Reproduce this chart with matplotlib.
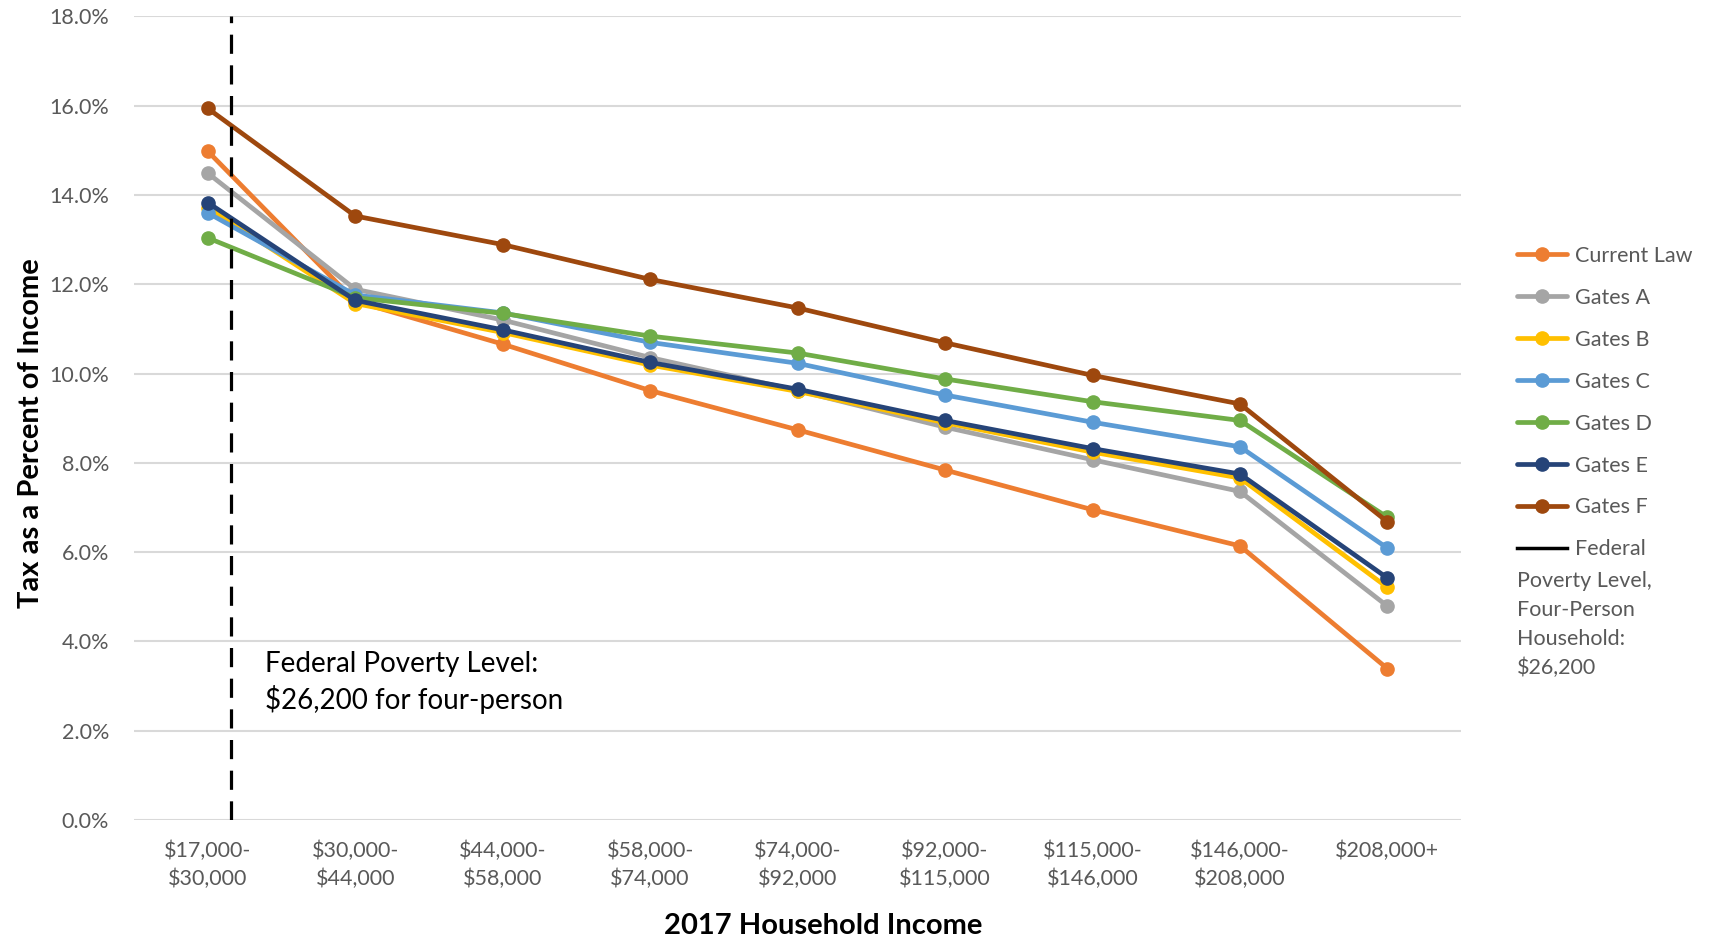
import matplotlib
matplotlib.use("Agg")
import matplotlib.pyplot as plt
from matplotlib.lines import Line2D
from matplotlib.ticker import FuncFormatter, MultipleLocator

plt.rcParams["font.family"] = ["Lato", "DejaVu Sans"]

# 소득 구간
income_bins = ["$17,000-\n$30,000", "$30,000-\n$44,000", "$44,000-\n$58,000",
               "$58,000-\n$74,000", "$74,000-\n$92,000", "$92,000-\n$115,000",
               "$115,000-\n$146,000", "$146,000-\n$208,000", "$208,000+"]

# 소득 대비 세금 비율 (%)
current_law = [14.98, 11.62, 10.66, 9.62, 8.74, 7.84, 6.95, 6.14, 3.39]
gates_a = [14.49, 11.89, 11.20, 10.36, 9.62, 8.80, 8.07, 7.36, 4.79]
gates_b = [13.72, 11.57, 10.92, 10.19, 9.60, 8.90, 8.24, 7.66, 5.21]
gates_c = [13.60, 11.76, 11.36, 10.70, 10.23, 9.52, 8.91, 8.36, 6.09]
gates_d = [13.04, 11.70, 11.35, 10.84, 10.46, 9.88, 9.37, 8.95, 6.78]
gates_e = [13.83, 11.64, 10.98, 10.25, 9.65, 8.95, 8.32, 7.75, 5.42]
gates_f = [15.94, 13.53, 12.89, 12.11, 11.47, 10.69, 9.96, 9.32, 6.68]

series_names = ["Current Law", "Gates A", "Gates B", "Gates C", "Gates D", "Gates E", "Gates F"]
series_values = [current_law, gates_a, gates_b, gates_c, gates_d, gates_e, gates_f]
colors = ["#ED7D31", "#A5A5A5", "#FFC000", "#5B9BD5", "#70AD47", "#264478", "#9E480E"]

poverty_x = 0.16  # 빈곤선 $26,200 위치 (첫 구간 안)

fig = plt.figure(figsize=(17.19, 9.41), dpi=100)
ax = fig.add_axes([0.078, 0.1286, 0.772, 0.8539])

x = list(range(len(income_bins)))
handles = []
for name, vals, c in zip(series_names, series_values, colors):
    h, = ax.plot(x, vals, color=c, lw=3.4, marker="o", ms=9.5,
                 solid_capstyle="round", label=name, zorder=3)
    handles.append(h)

ax.axvline(poverty_x, color="black", lw=2.3, dashes=(6, 3.6), zorder=4)
ax.text(poverty_x + 0.225, 3.09, "Federal Poverty Level:\n$26,200 for four-person",
        fontsize=20, color="black", va="center", ha="left", linespacing=1.33)

ax.set_xlim(-0.5, len(income_bins) - 0.5)
ax.set_ylim(0, 18)
ax.yaxis.set_major_locator(MultipleLocator(2))
ax.yaxis.set_major_formatter(FuncFormatter(lambda v, _: f"{v:.1f}%"))
ax.set_xticks(x)
ax.set_xticklabels(income_bins, linespacing=1.45)
ax.tick_params(axis="both", length=0, labelsize=15.5, labelcolor="#595959")
ax.tick_params(axis="x", pad=15)
ax.tick_params(axis="y", pad=18)
ax.grid(axis="y", color="#D9D9D9", lw=1.5)
ax.set_axisbelow(True)
for s in ax.spines.values():
    s.set_visible(False)

ax.set_xlabel("2017 Household Income", fontsize=21, fontweight="bold")
ax.set_ylabel("Tax as a Percent of Income", fontsize=21, fontweight="bold")
ax.xaxis.set_label_coords(0.519, -0.116)
ax.yaxis.set_label_coords(-0.068, 0.4816)

# 범례: 시리즈 + 빈곤선
pov_handle = Line2D([], [], color="black", lw=2.5)
leg = fig.legend(handles + [pov_handle], series_names + ["Federal"],
                 loc="upper left", bbox_to_anchor=(0.8775, 0.748), frameon=False,
                 fontsize=15.5, labelcolor="#595959", handlelength=2.3,
                 handletextpad=0.4, labelspacing=1.02, borderaxespad=0)
fig.text(0.8826, 0.393, "Poverty Level,\nFour-Person\nHousehold:\n$26,200",
         fontsize=15.5, color="#595959", va="top", ha="left", linespacing=1.55)

fig.savefig("out.png", dpi=100)
